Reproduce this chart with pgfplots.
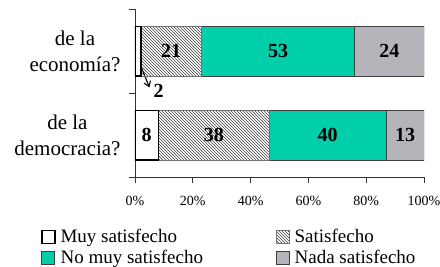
\documentclass[border=0pt]{standalone}
\usepackage{pgfplots}
\pgfplotsset{compat=1.18}
\usepackage{fontspec}
\setmainfont{Liberation Serif}
\usetikzlibrary{patterns,arrows.meta}
\definecolor{cgreen}{HTML}{00CFAA}
\definecolor{cgray}{HTML}{B3B5BA}
\definecolor{cedge}{HTML}{404040}
\begin{document}
\begin{tikzpicture}
\pgfplotsset{
  common/.style={
    at={(135pt,90pt)}, anchor=south west,
    scale only axis, width=289pt, height=167.5pt,
    xmin=0, xmax=100, ymin=0.5, ymax=2.5,
  }
}
\begin{axis}[
  common,
  xbar stacked, bar width=0.59,
  axis x line*=bottom, axis y line*=left,
  axis line style={black!80, line width=0.8pt},
  xtick={0,20,40,60,80,100},
  xticklabels={0\%,20\%,40\%,60\%,80\%,100\%},
  /pgf/number format/assume math mode=true,
  xticklabel style={font=\fontsize{14}{14}\selectfont, yshift=-10pt},
  tick align=outside, major tick length=6pt,
  tick style={black!80, line width=0.8pt},
  ytick={0.5,1.5,2.5}, yticklabels={},
  yticklabel style={align=center, font=\fontsize{21}{26}\selectfont, xshift=-5pt},
  extra y ticks={1,2},
  extra y tick labels={{de la\\democracia?},{de la\\econom\'ia?}},
  extra y tick style={tick style={draw=none}},
  legend columns=2,
  legend cell align=left,
  legend style={draw=none, fill=none, at={(-0.326,-0.30)}, anchor=north west,
    font=\fontsize{19}{19}\selectfont, inner sep=0pt, row sep=2pt,
    /tikz/every even column/.append style={column sep=71pt},
    /tikz/every odd column/.append style={column sep=3pt}},
  legend image code/.code={\draw[#1] (0pt,-6.5pt) rectangle (13pt,6.5pt);},
]
\addplot[fill=white, draw=black, line width=1.6pt] coordinates {(8.08,1) (2,2)};
\addlegendentry{Muy satisfecho}
\addplot[pattern=north west lines, pattern color=black!75, draw=black!55, line width=0.6pt] coordinates {(38.38,1) (21,2)};
\addlegendentry{Satisfecho}
\addplot[fill=cgreen, draw=cedge, line width=0.6pt] coordinates {(40.40,1) (53,2)};
\addlegendentry{No muy satisfecho}
\addplot[fill=cgray, draw=cedge, line width=0.6pt] coordinates {(13.13,1) (24,2)};
\addlegendentry{Nada satisfecho}
\draw[-{Straight Barb[length=5pt,width=7pt]}, line width=1.1pt, black] (axis cs:1.4,1.88) -- (axis cs:5.0,1.57);
\end{axis}
\begin{axis}[
  common, hide axis,
  point meta=explicit symbolic,
  nodes near coords,
  every node near coord/.style={anchor=center, font=\fontsize{20}{20}\selectfont\bfseries},
]
\addplot[only marks, mark=none] coordinates {
  (12.5,2) [21] (49.5,2) [53] (88,2) [24] (8.2,1.53) [2]
  (4.04,1) [8] (27.27,1) [38] (66.67,1) [40] (93.43,1) [13]
};
\end{axis}
\pgfresetboundingbox
\path (0pt,0pt) rectangle (440pt,267pt);
\end{tikzpicture}
\end{document}
